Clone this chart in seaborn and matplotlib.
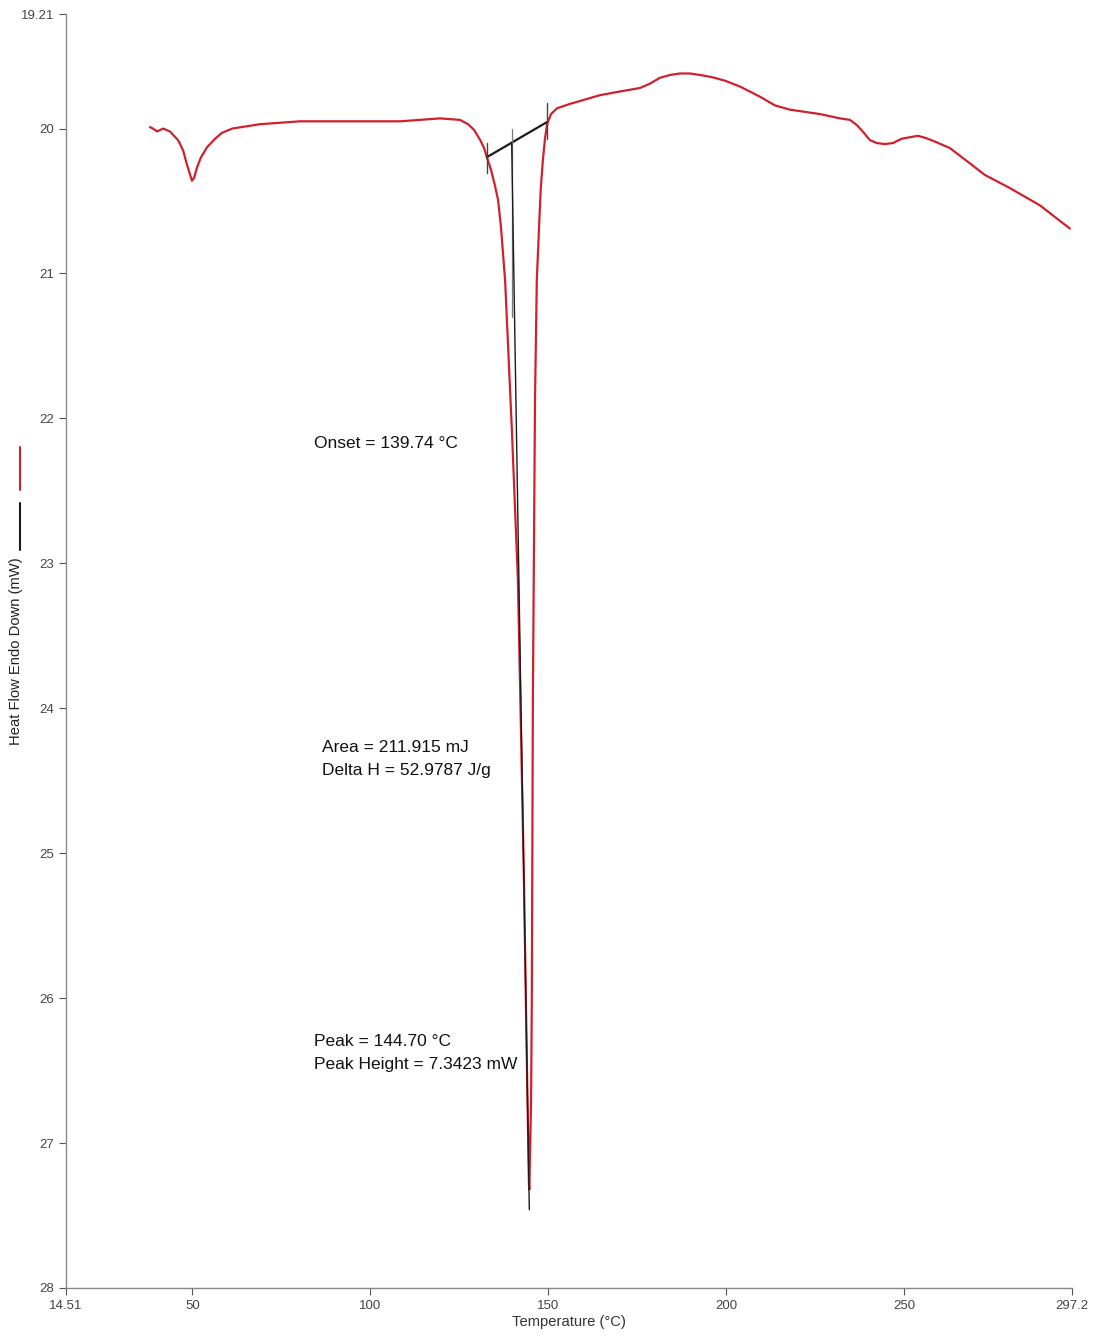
import numpy as np
import pandas as pd
import seaborn as sns
import matplotlib.pyplot as plt
from matplotlib.lines import Line2D
plt.switch_backend('agg')

sns.set_theme(style='white')
plt.rcParams['font.family'] = ['Liberation Sans', 'DejaVu Sans']

# DSC heat-flow curve (temperature in C, heat flow in mW)
temp = [38.1, 38.9, 40.1, 41.8, 43.7, 46.0, 47.4, 48.5, 49.4, 49.9, 50.5, 51.3,
        52.4, 54.1, 56.4, 58.3, 61.2, 69.0, 80.3, 95.0, 108.4, 119.6, 125.2,
        127.5, 129.2, 130.9, 132.0, 132.8, 134.0, 135.0, 135.9, 136.7, 137.9,
        139.8, 141.5, 143.2, 144.0, 144.6, 144.7, 145.2, 145.4, 145.7, 146.3,
        146.8, 147.4, 147.9, 148.5, 149.1, 149.7, 150.8, 152.5, 156.1, 164.5,
        170.0, 175.8, 178.6, 181.4, 184.3, 187.0, 189.8, 192.6, 196.0, 199.7,
        203.9, 209.5, 213.7, 218.0, 226.4, 232.0, 234.8, 236.7, 238.4, 240.4,
        242.4, 244.6, 246.9, 249.4, 251.6, 253.9, 256.1, 258.7, 262.9, 268.5,
        272.7, 279.7, 288.2, 296.6]
heat = [19.99, 20.00, 20.02, 20.00, 20.02, 20.08, 20.15, 20.25, 20.32, 20.36,
        20.34, 20.27, 20.20, 20.13, 20.07, 20.03, 20.00, 19.97, 19.95, 19.95,
        19.95, 19.93, 19.94, 19.97, 20.01, 20.08, 20.135, 20.20, 20.29, 20.39,
        20.49, 20.67, 21.05, 22.08, 23.12, 25.19, 26.43, 27.29, 27.32, 26.70,
        26.01, 23.94, 21.87, 21.05, 20.70, 20.42, 20.22, 20.07, 19.97, 19.90,
        19.86, 19.83, 19.77, 19.745, 19.72, 19.69, 19.65, 19.63, 19.62, 19.62,
        19.63, 19.645, 19.67, 19.71, 19.78, 19.84, 19.87, 19.90, 19.93, 19.94,
        19.975, 20.02, 20.08, 20.10, 20.107, 20.10, 20.07, 20.06, 20.05, 20.065,
        20.09, 20.135, 20.24, 20.32, 20.41, 20.53, 20.69]

# analysis results
onset = 139.74
peak = 144.70
base_t = [132.8, 149.7]
base_h = [20.197, 19.955]
peak_bottom = 27.46

x_ticks = [14.51, 50, 100, 150, 200, 250, 297.2]
x_labels = ['14.51', '50', '100', '150', '200', '250', '297.2']
y_ticks = [19.21, 20, 21, 22, 23, 24, 25, 26, 27, 28]
y_labels = ['19.21', '20', '21', '22', '23', '24', '25', '26', '27', '28']

df = pd.DataFrame({'Temperature': temp, 'Heat': heat})

fig = plt.figure(figsize=(10.97, 13.39), dpi=100)
ax = fig.add_axes([0.0602, 0.0381, 0.9170, 0.9514])

red = '#d0202c'
dark = '#1a1a1a'
sns.lineplot(data=df, x='Temperature', y='Heat', sort=False, estimator=None,
             color=red, linewidth=1.6, ax=ax)

# baseline and onset construction
ax.plot(base_t, base_h, color=dark, linewidth=1.6)
ax.plot([base_t[0], base_t[0]], [base_h[0] - 0.1, base_h[0] + 0.11], color='#444444', linewidth=1.0)
ax.plot([base_t[1], base_t[1]], [base_h[1] - 0.13, base_h[1] + 0.12], color='#444444', linewidth=1.0)
slope = (base_h[1] - base_h[0]) / (base_t[1] - base_t[0])
onset_h = base_h[0] + slope * (onset - base_t[0])
ax.plot([onset, onset], [20.0, 21.3], color='#777777', linewidth=0.9)
ax.plot([onset, peak], [onset_h, peak_bottom], color=dark, linewidth=1.0)

txt = dict(fontsize=12.5, color='#111111', ha='left', va='center')
ax.text(84.2, 22.17, 'Onset = 139.74 °C', **txt)
ax.text(86.4, 24.27, 'Area = 211.915 mJ', **txt)
ax.text(86.4, 24.43, 'Delta H = 52.9787 J/g', **txt)
ax.text(84.2, 26.30, 'Peak = 144.70 °C', **txt)
ax.text(84.2, 26.46, 'Peak Height = 7.3423 mW', **txt)

ax.set_xlim(14.51, 297.2)
ax.set_ylim(28, 19.21)
ax.set_xticks(x_ticks)
ax.set_xticklabels(x_labels)
ax.set_yticks(y_ticks)
ax.set_yticklabels(y_labels)
ax.tick_params(axis='both', direction='out', length=5, width=0.8, color='#555555',
               labelsize=9.5, labelcolor='#444444', left=True, bottom=True)
for side in ['top', 'right']:
    ax.spines[side].set_visible(False)
for side in ['left', 'bottom']:
    ax.spines[side].set_color('#888888')
    ax.spines[side].set_linewidth(1.0)

ax.set_xlabel('Temperature (°C)', fontsize=10.6, color='#333333', labelpad=2)
ax.set_ylabel('Heat Flow Endo Down (mW)', fontsize=10.6, color='#222222', labelpad=12)
ax.yaxis.set_label_coords(-0.043, 0.50)

# colour keys beside the y label
fig.add_artist(Line2D([20 / 1097, 20 / 1097], [1 - 447 / 1339, 1 - 490 / 1339],
                      color=red, linewidth=1.5))
fig.add_artist(Line2D([20 / 1097, 20 / 1097], [1 - 503 / 1339, 1 - 550 / 1339],
                      color=dark, linewidth=1.5))

fig.savefig('out.png', dpi=100)
